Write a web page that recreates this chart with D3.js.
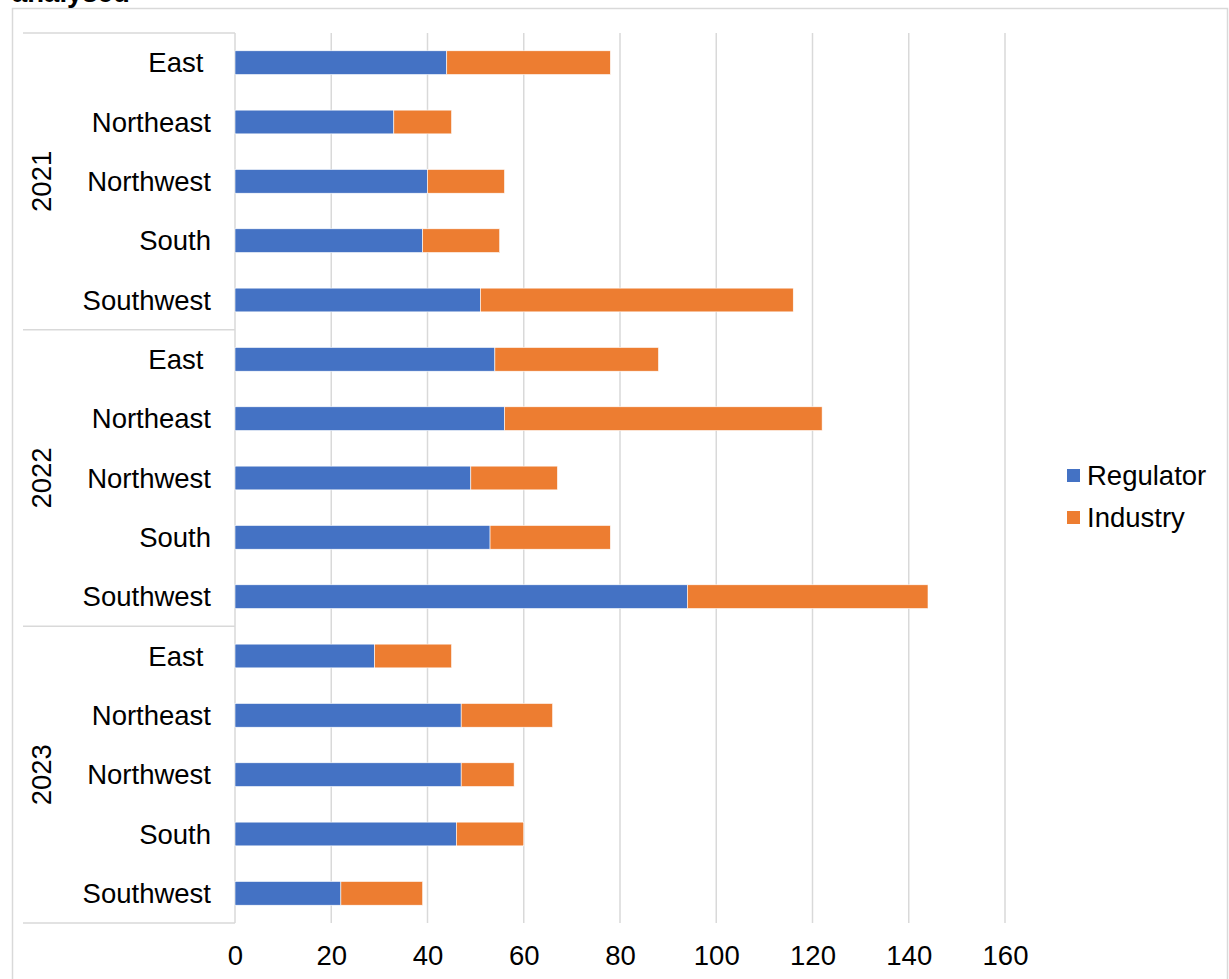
<!DOCTYPE html>
<html>
<head>
<meta charset="utf-8">
<script src="https://cdn.jsdelivr.net/npm/d3@7"></script>
<style>
  html, body { margin: 0; padding: 0; background: #fff; }
  svg { display: block; font-family: "Liberation Sans", Arial, sans-serif; }
</style>
</head>
<body>
<svg id="chart" width="1229" height="979"></svg>
<script>
// Years and regions (regions repeat inside each year group)
const years = ["2021", "2022", "2023"];
const regions = ["East ", "Northeast", "Northwest", "South", "Southwest"];

// Values per year, in region order
const regulator = [
  [44, 33, 40, 39, 51],
  [54, 56, 49, 53, 94],
  [29, 47, 47, 46, 22]
];
const industry = [
  [34, 12, 16, 16, 65],
  [34, 66, 18, 25, 50],
  [16, 19, 11, 14, 17]
];

const seriesNames = ["Regulator", "Industry"];
const seriesColors = ["#4472C4", "#ED7D31"];
const xTicks = [0, 20, 40, 60, 80, 100, 120, 140, 160];

// Flatten into one row per year/region pair
const rows = [];
years.forEach((yr, i) => {
  regions.forEach((rg, j) => {
    rows.push({ key: yr + "|" + rg, year: yr, region: rg,
                Regulator: regulator[i][j], Industry: industry[i][j] });
  });
});

const svg = d3.select("#chart");
const fontSize = 27.5;
const gridColor = "#d9d9d9";

const plot = { left: 235, right: 1005, top: 33, bottom: 923 };

const x = d3.scaleLinear().domain([0, 160]).range([plot.left, plot.right]);
const y = d3.scaleBand().domain(rows.map(d => d.key))
  .range([plot.top, plot.bottom]).paddingInner(0.6).paddingOuter(0.3);
const rowStep = (plot.bottom - plot.top) / rows.length;

// Outer chart frame
svg.append("rect")
  .attr("x", 12.5).attr("y", 8.5).attr("width", 1215).attr("height", 1000)
  .attr("fill", "none").attr("stroke", gridColor).attr("stroke-width", 1.5);

// Title line, mostly above the visible area
svg.append("text")
  .attr("x", 12).attr("y", 2)
  .attr("font-size", fontSize).attr("font-weight", "bold").attr("fill", "#000")
  .text("analysed");

// Vertical gridlines
svg.append("g").selectAll("line").data(xTicks.slice(1)).join("line")
  .attr("x1", d => x(d)).attr("x2", d => x(d))
  .attr("y1", plot.top).attr("y2", plot.bottom)
  .attr("stroke", gridColor).attr("stroke-width", 1.5);

// Value axis tick labels
const xAxis = d3.axisBottom(x).tickValues(xTicks).tickSize(0).tickPadding(0);
const gx = svg.append("g").attr("transform", `translate(0,${plot.bottom})`).call(xAxis);
gx.select(".domain").remove();
gx.selectAll("text")
  .attr("font-size", fontSize).attr("font-family", "Liberation Sans, Arial, sans-serif")
  .attr("fill", "#000").attr("dy", null).attr("y", 42);

// Category axis line and group separators
svg.append("line")
  .attr("x1", plot.left).attr("x2", plot.left)
  .attr("y1", plot.top).attr("y2", plot.bottom)
  .attr("stroke", gridColor).attr("stroke-width", 1.5);
const sepY = d3.range(years.length + 1).map(i => plot.top + i * regions.length * rowStep);
svg.append("g").selectAll("line").data(sepY).join("line")
  .attr("x1", 23).attr("x2", plot.left)
  .attr("y1", d => d).attr("y2", d => d)
  .attr("stroke", gridColor).attr("stroke-width", 1.5);

// Stacked bars
const stack = d3.stack().keys(seriesNames);
const stacked = stack(rows);
const color = d3.scaleOrdinal().domain(seriesNames).range(seriesColors);

svg.append("g").selectAll("g").data(stacked).join("g")
  .attr("fill", d => color(d.key))
  .selectAll("rect").data(d => d).join("rect")
  .attr("x", d => x(d[0]))
  .attr("width", d => x(d[1]) - x(d[0]))
  .attr("y", d => y(d.data.key))
  .attr("height", y.bandwidth())
  .attr("stroke", "#fff").attr("stroke-width", 0.6);

// Region labels
svg.append("g").selectAll("text").data(rows).join("text")
  .attr("x", 211)
  .attr("y", d => y(d.key) + y.bandwidth() / 2)
  .attr("dy", "0.35em")
  .attr("text-anchor", "end")
  .attr("font-size", fontSize).attr("fill", "#000")
  .style("white-space", "pre")
  .text(d => d.region);

// Year labels, rotated
svg.append("g").selectAll("text").data(years).join("text")
  .attr("transform", (d, i) => {
    const cy = plot.top + (i + 0.5) * regions.length * rowStep;
    return `translate(41,${cy}) rotate(-90)`;
  })
  .attr("dy", "0.35em")
  .attr("text-anchor", "middle")
  .attr("font-size", fontSize).attr("fill", "#000")
  .text(d => d);

// Legend
const legend = svg.append("g").attr("transform", "translate(1067,469)");
const li = legend.selectAll("g").data(seriesNames).join("g")
  .attr("transform", (d, i) => `translate(0,${i * 42})`);
li.append("rect").attr("width", 13).attr("height", 13).attr("fill", d => color(d));
li.append("text")
  .attr("x", 20).attr("y", 6.5).attr("dy", "0.35em")
  .attr("font-size", fontSize).attr("fill", "#000")
  .text(d => d);
</script>
</body>
</html>
